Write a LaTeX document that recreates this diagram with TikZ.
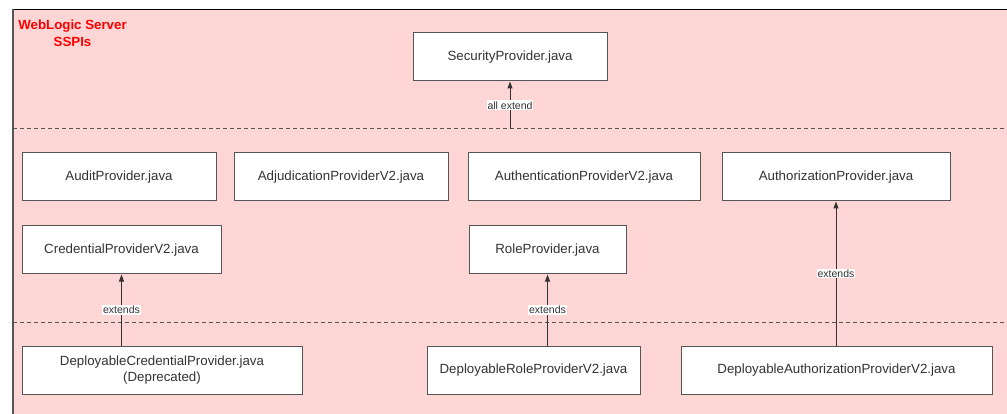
\documentclass[tikz,border=0pt]{standalone}
\usepackage{fontspec}
\setmainfont{Liberation Sans}
\usetikzlibrary{arrows.meta}

\definecolor{sspipink}{RGB}{255,214,214}
\definecolor{boxline}{RGB}{85,85,85}
\definecolor{boxtext}{RGB}{51,51,51}

\tikzset{every path/.style={line width=1pt}}
\tikzset{java/.style={draw=boxline,fill=white,text=boxtext,minimum height=48pt,inner sep=2pt,
    align=center,font=\fontsize{13.3}{16.5}\selectfont}}
\tikzset{ext/.style={color=boxtext,->,>={Triangle[length=7pt,width=5pt]}}}
\tikzset{extlabel/.style={fill=white,inner sep=1pt,text=boxtext,font=\fontsize{10.5}{12}\selectfont}}
\tikzset{layer/.style={color=boxline,dash pattern=on 4pt off 3pt}}

\begin{document}
\begin{tikzpicture}[x=1pt,y=-1pt]
    \useasboundingbox (0,0) rectangle (1007,414);
    \fill[sspipink] (13,9.5) rectangle (1007,414);
    \draw[black,line width=1.4pt] (12.5,9.5) -- (1007,9.5);
    \draw[boxline,line width=1.4pt] (13,9.5) -- (13,414);
    \node[text=red,font=\bfseries\fontsize{13.3}{17}\selectfont,align=center] (title) at (72.5,33) {WebLogic Server\\SSPIs};
    % layers
    \coordinate (l1w) at (13,129);
    \coordinate (l1e) at (1007,129);
    \coordinate (l2w) at (13,322);
    \coordinate (l2e) at (1007,322);
    \draw[layer] (l1w) -- (l1e);
    \draw[layer] (l2w) -- (l2e);
    % top
    \node[java,minimum width=194pt] (sec) at (510,57) {SecurityProvider.java};
    % SSPIs
    \node[java,minimum width=194pt] (audit) at (119,177) {AuditProvider.java};
    \node[java,minimum width=214pt] (adj) at (341,177) {AdjudicationProviderV2.java};
    \node[java,minimum width=232pt] (authn) at (584,177) {AuthenticationProviderV2.java};
    \node[java,minimum width=228pt] (authz) at (836,177) {AuthorizationProvider.java};
    \node[java,minimum width=199pt] (cred) at (121.5,250) {CredentialProviderV2.java};
    \node[java,minimum width=157pt] (role) at (547.5,250) {RoleProvider.java};
    % deployable
    \node[java,minimum width=280pt] (dcred) at (162,370) {DeployableCredentialProvider.java\\(Deprecated)};
    \node[java,minimum width=213pt] (drole) at (533.5,370) {DeployableRoleProviderV2.java};
    \node[java,minimum width=311pt] (dauthz) at (836.5,370) {DeployableAuthorizationProviderV2.java};
    % extends
    \coordinate (all) at (l1w -| sec.south);
    \draw[ext] (all) -- node[extlabel] (allx) {all extend} (sec.south);
    \draw[ext] (dcred.north -| cred.south) -- node[extlabel] (credx) {extends} (cred.south);
    \draw[ext] (drole.north -| role.south) -- node[extlabel] (rolex) {extends} (role.south);
    \draw[ext] (dauthz.north -| authz.south) -- node[extlabel] (authzx) {extends} (authz.south);
\end{tikzpicture}
\end{document}
